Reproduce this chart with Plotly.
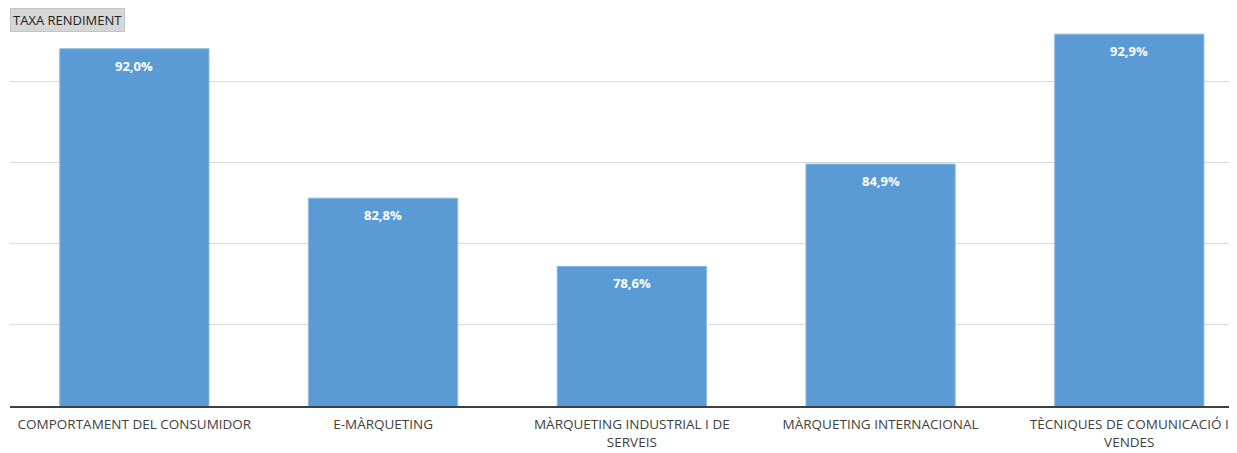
import plotly.graph_objects as go

categories = [
    "COMPORTAMENT DEL CONSUMIDOR",
    "E-MÀRQUETING",
    "MÀRQUETING INDUSTRIAL I DE<br>SERVEIS",
    "MÀRQUETING INTERNACIONAL",
    "TÈCNIQUES DE COMUNICACIÓ I<br>VENDES",
]
values = [92.0, 82.8, 78.6, 84.9, 92.9]
title_text = "TAXA RENDIMENT"

fig = go.Figure()
fig.add_trace(go.Bar(
    x=categories, y=values, width=0.6,
    marker=dict(color="#5b9bd5", line=dict(color="#8db9e3", width=1)),
    hoverinfo="skip",
))
for c, v in zip(categories, values):
    fig.add_annotation(
        x=c, y=v, yshift=-17, text=f"{v:.1f}%".replace(".", ","),
        showarrow=False, font=dict(family="Open Sans", size=13, color="white", weight="bold"),
        xref="x", yref="y",
    )
fig.add_annotation(
    x=0, y=1, xref="paper", yref="paper", xanchor="left", yanchor="top",
    yshift=0, text=title_text, showarrow=False,
    font=dict(family="Open Sans", size=13, color="#222"),
    bgcolor="#d6d6d6", bordercolor="#c4c4c4", borderwidth=1, borderpad=2,
)
fig.update_layout(
    width=1229, height=445,
    margin=dict(l=2, r=0, t=0, b=47),
    plot_bgcolor="white", paper_bgcolor="white",
    showlegend=False,
    separators=",.",
    font=dict(family="Open Sans", size=13.5, color="#404040"),
    xaxis=dict(range=[-0.5, 4.433], showgrid=False, showline=True,
               linecolor="#404040", linewidth=2, ticks="", ticklabelstandoff=5,
               tickfont=dict(size=13.5)),
    yaxis=dict(range=[70, 94.51], dtick=5, showgrid=True, gridcolor="#d9d9d9",
               gridwidth=1, showticklabels=False, zeroline=False, showline=False),
)
fig.write_html("out.html")
